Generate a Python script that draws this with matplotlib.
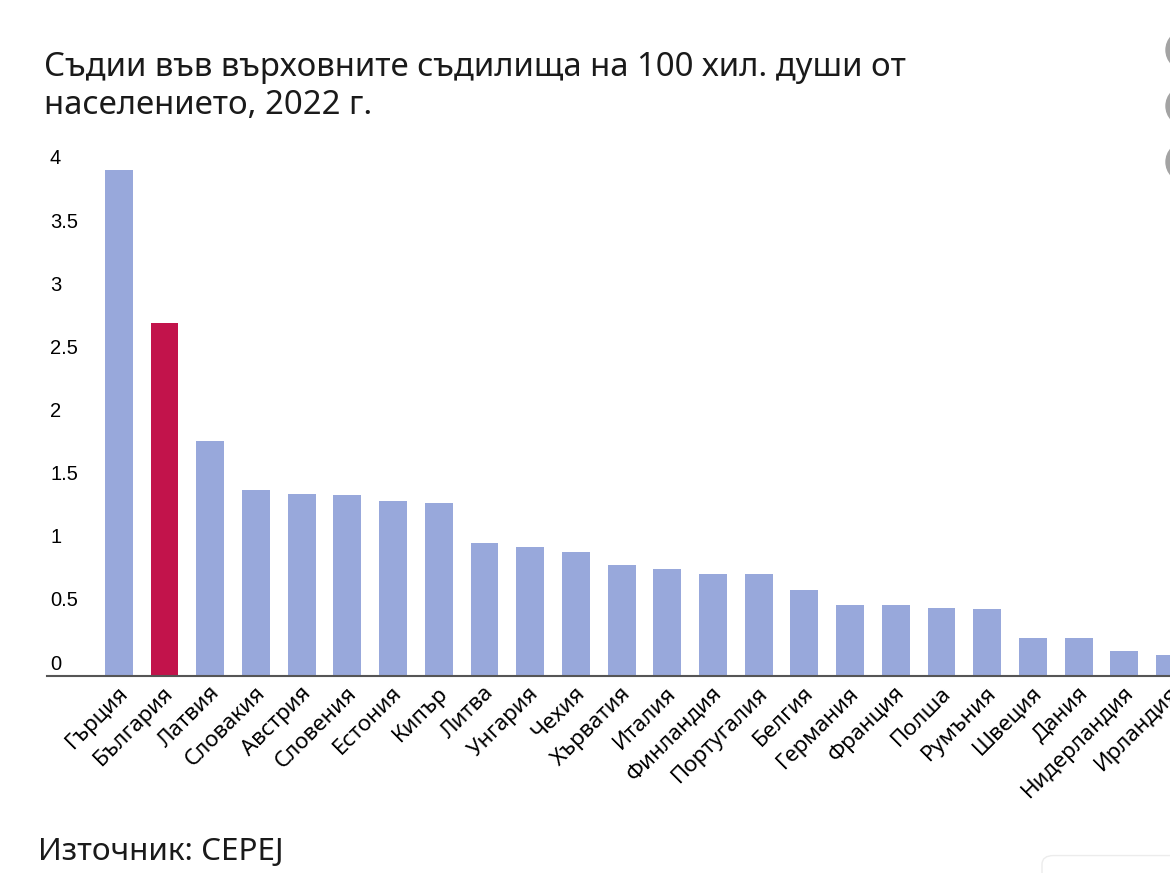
import matplotlib

matplotlib.use("Agg")
import matplotlib.pyplot as plt
from matplotlib.patches import Ellipse, FancyBboxPatch
from matplotlib.transforms import ScaledTranslation

plt.rcParams["font.family"] = ["Noto Sans", "DejaVu Sans"]

# supreme court judges per 100k population, CEPEJ 2022
countries = [
    "Гърция", "България", "Латвия", "Словакия", "Австрия", "Словения",
    "Естония", "Кипър", "Литва", "Унгария", "Чехия", "Хърватия", "Италия",
    "Финландия", "Португалия", "Белгия", "Германия", "Франция", "Полша",
    "Румъния", "Швеция", "Дания", "Нидерландия", "Ирландия",
]
judges = [
    4.01, 2.80, 1.86, 1.47, 1.44, 1.43, 1.39, 1.37, 1.05, 1.02, 0.98, 0.88,
    0.85, 0.81, 0.81, 0.68, 0.56, 0.56, 0.54, 0.53, 0.30, 0.30, 0.20, 0.17,
]
yticks = [0, 0.5, 1, 1.5, 2, 2.5, 3, 3.5, 4]
ytick_labels = ["0", "0.5", "1", "1.5", "2", "2.5", "3", "3.5", "4"]
highlight = "България"

BLUE = "#98a8db"
RED = "#c2134b"

W, H = 1170, 873
fig = plt.figure(figsize=(W / 100, H / 100), dpi=100)

# plot area in pixels: left edge 47, baseline 676, 126.25 px per unit
ymax = 4.1
ax = fig.add_axes([47 / W, 1 - 676 / H, (W - 47) / W, ymax * 126.25 / H])
colors = [RED if c == highlight else BLUE for c in countries]
ax.bar(range(len(countries)), judges, width=0.61, color=colors, zorder=2)

# the embed is cropped on the right, so the last bar is cut by the frame
ax.set_xlim(-72 / 45.8, (W - 119) / 45.8)
ax.set_ylim(0, ymax)

for side in ("top", "right", "left"):
    ax.spines[side].set_visible(False)
ax.spines["bottom"].set_color("#555555")
ax.spines["bottom"].set_linewidth(1.5)

ax.set_yticks(yticks)
ax.set_yticklabels(ytick_labels, family=["Liberation Sans", "DejaVu Sans"], fontsize=14.5)
ax.tick_params(axis="y", length=0, pad=0)
for lbl in ax.get_yticklabels():
    lbl.set_ha("left")
    lbl.set_transform(lbl.get_transform() + ScaledTranslation(0.03, 0.14, fig.dpi_scale_trans))

ax.set_xticks(range(len(countries)))
ax.set_xticklabels(countries, rotation=45, ha="right", va="center",
                   rotation_mode="anchor", fontsize=16)
ax.tick_params(axis="x", length=0, pad=10)
for lbl in ax.get_xticklabels():
    lbl.set_transform(lbl.get_transform() + ScaledTranslation(0.06, 0, fig.dpi_scale_trans))

fig.text(44 / W, 1 - 68 / H, "Съдии във върховните съдилища на 100 хил. души от",
         fontsize=23.7, va="center", ha="left", color="#1a1a1a")
fig.text(44 / W, 1 - 105 / H, "населението, 2022 г.",
         fontsize=23.7, va="center", ha="left", color="#1a1a1a")
fig.text(38 / W, 1 - 852 / H, "Източник: CEPEJ",
         fontsize=22.7, va="center", ha="left", color="#1a1a1a")

# page chrome around the embed: share buttons, card edge
for cy in (50, 106, 162):
    fig.patches.append(Ellipse((1186 / W, 1 - cy / H), 40 / W, 40 / H,
                               transform=fig.transFigure, color="#a3a3a3"))
fig.patches.append(FancyBboxPatch((1042 / W, -0.05), 0.2, 0.07,
                                  boxstyle="round,pad=0,rounding_size=0.01",
                                  transform=fig.transFigure, facecolor="white",
                                  edgecolor="#ececec", lw=1))

fig.savefig("out.png", dpi=100)
